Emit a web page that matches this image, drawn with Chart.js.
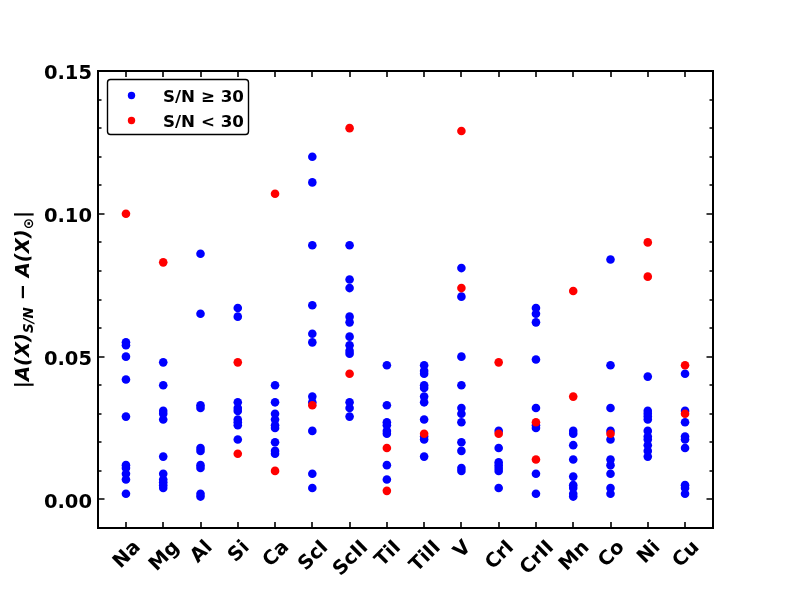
<!DOCTYPE html>
<html>
<head>
<meta charset="utf-8">
<script src="https://cdn.jsdelivr.net/npm/chart.js@4"></script>
<style>
  html, body { margin: 0; padding: 0; background: #fff; }
  canvas { display: block; }
</style>
</head>
<body>
<canvas id="myChart" width="793" height="594"></canvas>
<script>
// element names along the x axis
var elements = ['Na', 'Mg', 'Al', 'Si', 'Ca', 'ScI', 'ScII', 'TiI', 'TiII', 'V', 'CrI', 'CrII', 'Mn', 'Co', 'Ni', 'Cu'];

// |A(X)_S/N - A(X)_sun| for the S/N >= 30 spectra, one list per element
var highSN = [
    [0.055, 0.054, 0.050, 0.042, 0.029, 0.012, 0.011, 0.009, 0.007, 0.002],
    [0.048, 0.040, 0.031, 0.030, 0.028, 0.015, 0.009, 0.007, 0.006, 0.005, 0.004],
    [0.086, 0.065, 0.033, 0.032, 0.018, 0.017, 0.012, 0.011, 0.002, 0.001],
    [0.067, 0.064, 0.034, 0.032, 0.031, 0.028, 0.027, 0.026, 0.021],
    [0.040, 0.034, 0.030, 0.028, 0.026, 0.025, 0.020, 0.017, 0.016],
    [0.120, 0.111, 0.089, 0.068, 0.058, 0.055, 0.036, 0.034, 0.024, 0.009, 0.004],
    [0.089, 0.077, 0.074, 0.064, 0.062, 0.057, 0.054, 0.052, 0.051, 0.034, 0.032, 0.029],
    [0.047, 0.033, 0.027, 0.026, 0.024, 0.023, 0.012, 0.007],
    [0.047, 0.045, 0.044, 0.040, 0.039, 0.036, 0.034, 0.028, 0.022, 0.021, 0.015],
    [0.081, 0.071, 0.050, 0.040, 0.032, 0.030, 0.027, 0.020, 0.017, 0.011, 0.010],
    [0.024, 0.018, 0.013, 0.012, 0.011, 0.010, 0.004],
    [0.067, 0.065, 0.062, 0.049, 0.032, 0.026, 0.025, 0.009, 0.002],
    [0.024, 0.023, 0.019, 0.014, 0.008, 0.005, 0.004, 0.002, 0.001],
    [0.084, 0.047, 0.032, 0.024, 0.021, 0.014, 0.012, 0.009, 0.004, 0.002],
    [0.043, 0.031, 0.030, 0.029, 0.028, 0.024, 0.022, 0.021, 0.019, 0.017, 0.015],
    [0.044, 0.031, 0.027, 0.022, 0.021, 0.018, 0.005, 0.004, 0.002]
];

// same for the S/N < 30 spectra
var lowSN = [
    [0.100],
    [0.083],
    [],
    [0.048, 0.016],
    [0.107, 0.010],
    [0.033],
    [0.130, 0.044],
    [0.018, 0.003],
    [0.023],
    [0.129, 0.074],
    [0.048, 0.023],
    [0.027, 0.014],
    [0.073, 0.036],
    [0.023],
    [0.090, 0.078],
    [0.047, 0.030]
];

var yTicks = [0.00, 0.05, 0.10, 0.15];
var yMinorStep = 0.01;
var yMin = -0.01, yMax = 0.15;
var seriesLabels = ['S/N \u2265 30', 'S/N < 30'];
var seriesColors = ['#0000ff', '#ff0000'];

function toPoints(lists) {
    var pts = [];
    lists.forEach(function (vals, i) {
        vals.forEach(function (v) { pts.push({x: i, y: v}); });
    });
    return pts;
}

var FONT = '"DejaVu Sans", sans-serif';

// axes frame, inward ticks, rotated x labels, y title and legend
var decorPlugin = {
    id: 'decor',
    afterDatasetsDraw: function (chart) {
        var ctx = chart.ctx, a = chart.chartArea;
        var xs = chart.scales.x, ys = chart.scales.y;
        ctx.save();
        ctx.strokeStyle = '#000';
        ctx.lineWidth = 2;
        ctx.strokeRect(a.left, a.top, a.right - a.left, a.bottom - a.top);

        ctx.lineWidth = 1.6;
        ctx.beginPath();
        elements.forEach(function (el, i) {
            var px = Math.round(xs.getPixelForValue(i));
            ctx.moveTo(px, a.bottom); ctx.lineTo(px, a.bottom - 6);
            ctx.moveTo(px, a.top); ctx.lineTo(px, a.top + 6);
        });
        var n = Math.round((yMax - yMin) / yMinorStep);
        for (var k = 0; k <= n; k++) {
            var v = yMin + k * yMinorStep;
            var major = yTicks.some(function (t) { return Math.abs(t - v) < 1e-6; });
            var len = major ? 6.5 : 3.5;
            var py = Math.round(ys.getPixelForValue(v));
            ctx.moveTo(a.left, py); ctx.lineTo(a.left + len, py);
            ctx.moveTo(a.right, py); ctx.lineTo(a.right - len, py);
        }
        ctx.stroke();

        // x labels, rotated 45 deg, centred on their tick
        var fs = 19.5;
        ctx.font = 'bold ' + fs + 'px ' + FONT;
        ctx.fillStyle = '#000';
        ctx.textAlign = 'center';
        ctx.textBaseline = 'alphabetic';
        var cap = 0.73 * fs;
        elements.forEach(function (el, i) {
            var w = ctx.measureText(el).width;
            var box = (w + cap) / Math.SQRT2;
            var cx = xs.getPixelForValue(i);
            var cy = a.bottom + 10 + box / 2;
            ctx.save();
            ctx.translate(cx, cy);
            ctx.rotate(-Math.PI / 4);
            ctx.fillText(el, 0, cap / 2);
            ctx.restore();
        });

        // y axis title with subscripts
        var parts = [
            {t: '|', f: 'bold ' + fs + 'px ' + FONT, dy: 0},
            {t: 'A(X)', f: 'italic bold ' + fs + 'px ' + FONT, dy: 0},
            {t: 'S/N', f: 'italic bold 13.5px ' + FONT, dy: 4},
            {t: ' \u2212 ', f: 'bold ' + fs + 'px ' + FONT, dy: 0},
            {t: 'A(X)', f: 'italic bold ' + fs + 'px ' + FONT, dy: 0},
            {t: '\u2299', f: 'bold 13.5px ' + FONT, dy: 4},
            {t: '|', f: 'bold ' + fs + 'px ' + FONT, dy: 0}
        ];
        var total = 0;
        parts.forEach(function (p) { ctx.font = p.f; p.w = ctx.measureText(p.t).width; total += p.w; });
        ctx.save();
        ctx.translate(29, (a.top + a.bottom) / 2);
        ctx.rotate(-Math.PI / 2);
        ctx.textAlign = 'left';
        var x0 = -total / 2;
        parts.forEach(function (p) {
            ctx.font = p.f;
            ctx.fillText(p.t, x0, p.dy);
            x0 += p.w;
        });
        ctx.restore();

        // legend
        var lx = 107.5, ly = 79.5, lw = 141, lh = 55;
        ctx.beginPath();
        ctx.roundRect(lx, ly, lw, lh, 3);
        ctx.fillStyle = 'rgba(255,255,255,0.85)';
        ctx.fill();
        ctx.lineWidth = 1.4;
        ctx.strokeStyle = '#000';
        ctx.stroke();
        ctx.font = 'bold 16.7px ' + FONT;
        ctx.textAlign = 'left';
        chart.data.datasets.forEach(function (ds, i) {
            var yy = 95.5 + i * 25;
            ctx.beginPath();
            ctx.arc(131.5, yy, 3.7, 0, Math.PI * 2);
            ctx.fillStyle = ds.backgroundColor;
            ctx.fill();
            ctx.fillStyle = '#000';
            ctx.fillText(ds.label, 163, yy + 6);
        });
        ctx.restore();
    }
};

var ctx = document.getElementById('myChart').getContext('2d');
var myChart = new Chart(ctx, {
    type: 'scatter',
    data: {
        datasets: [{
            label: seriesLabels[0],
            data: toPoints(highSN),
            backgroundColor: seriesColors[0],
            borderWidth: 0,
            pointRadius: 4.3,
            order: 2
        }, {
            label: seriesLabels[1],
            data: toPoints(lowSN),
            backgroundColor: seriesColors[1],
            borderWidth: 0,
            pointRadius: 4.3,
            order: 1
        }]
    },
    options: {
        animation: false,
        responsive: false,
        events: [],
        layout: { padding: { top: 71, right: 80, left: 0, bottom: 0 } },
        plugins: { legend: { display: false }, tooltip: { enabled: false } },
        scales: {
            x: {
                type: 'linear',
                min: -0.75,
                max: 15.75,
                grid: { display: false, drawTicks: false },
                border: { display: false },
                ticks: { display: false },
                afterFit: function (s) { s.height = 66; }
            },
            y: {
                type: 'linear',
                min: yMin,
                max: yMax,
                grid: { display: false, drawTicks: false },
                border: { display: false },
                afterBuildTicks: function (s) {
                    s.ticks = yTicks.map(function (v) { return {value: v}; });
                },
                ticks: {
                    padding: 6,
                    labelOffset: 3,
                    color: '#000',
                    font: { family: FONT, size: 19.5, weight: 'bold' },
                    callback: function (v) { return Number(v).toFixed(2); }
                },
                afterFit: function (s) { s.width = 98; }
            }
        }
    },
    plugins: [decorPlugin]
});
</script>
</body>
</html>
